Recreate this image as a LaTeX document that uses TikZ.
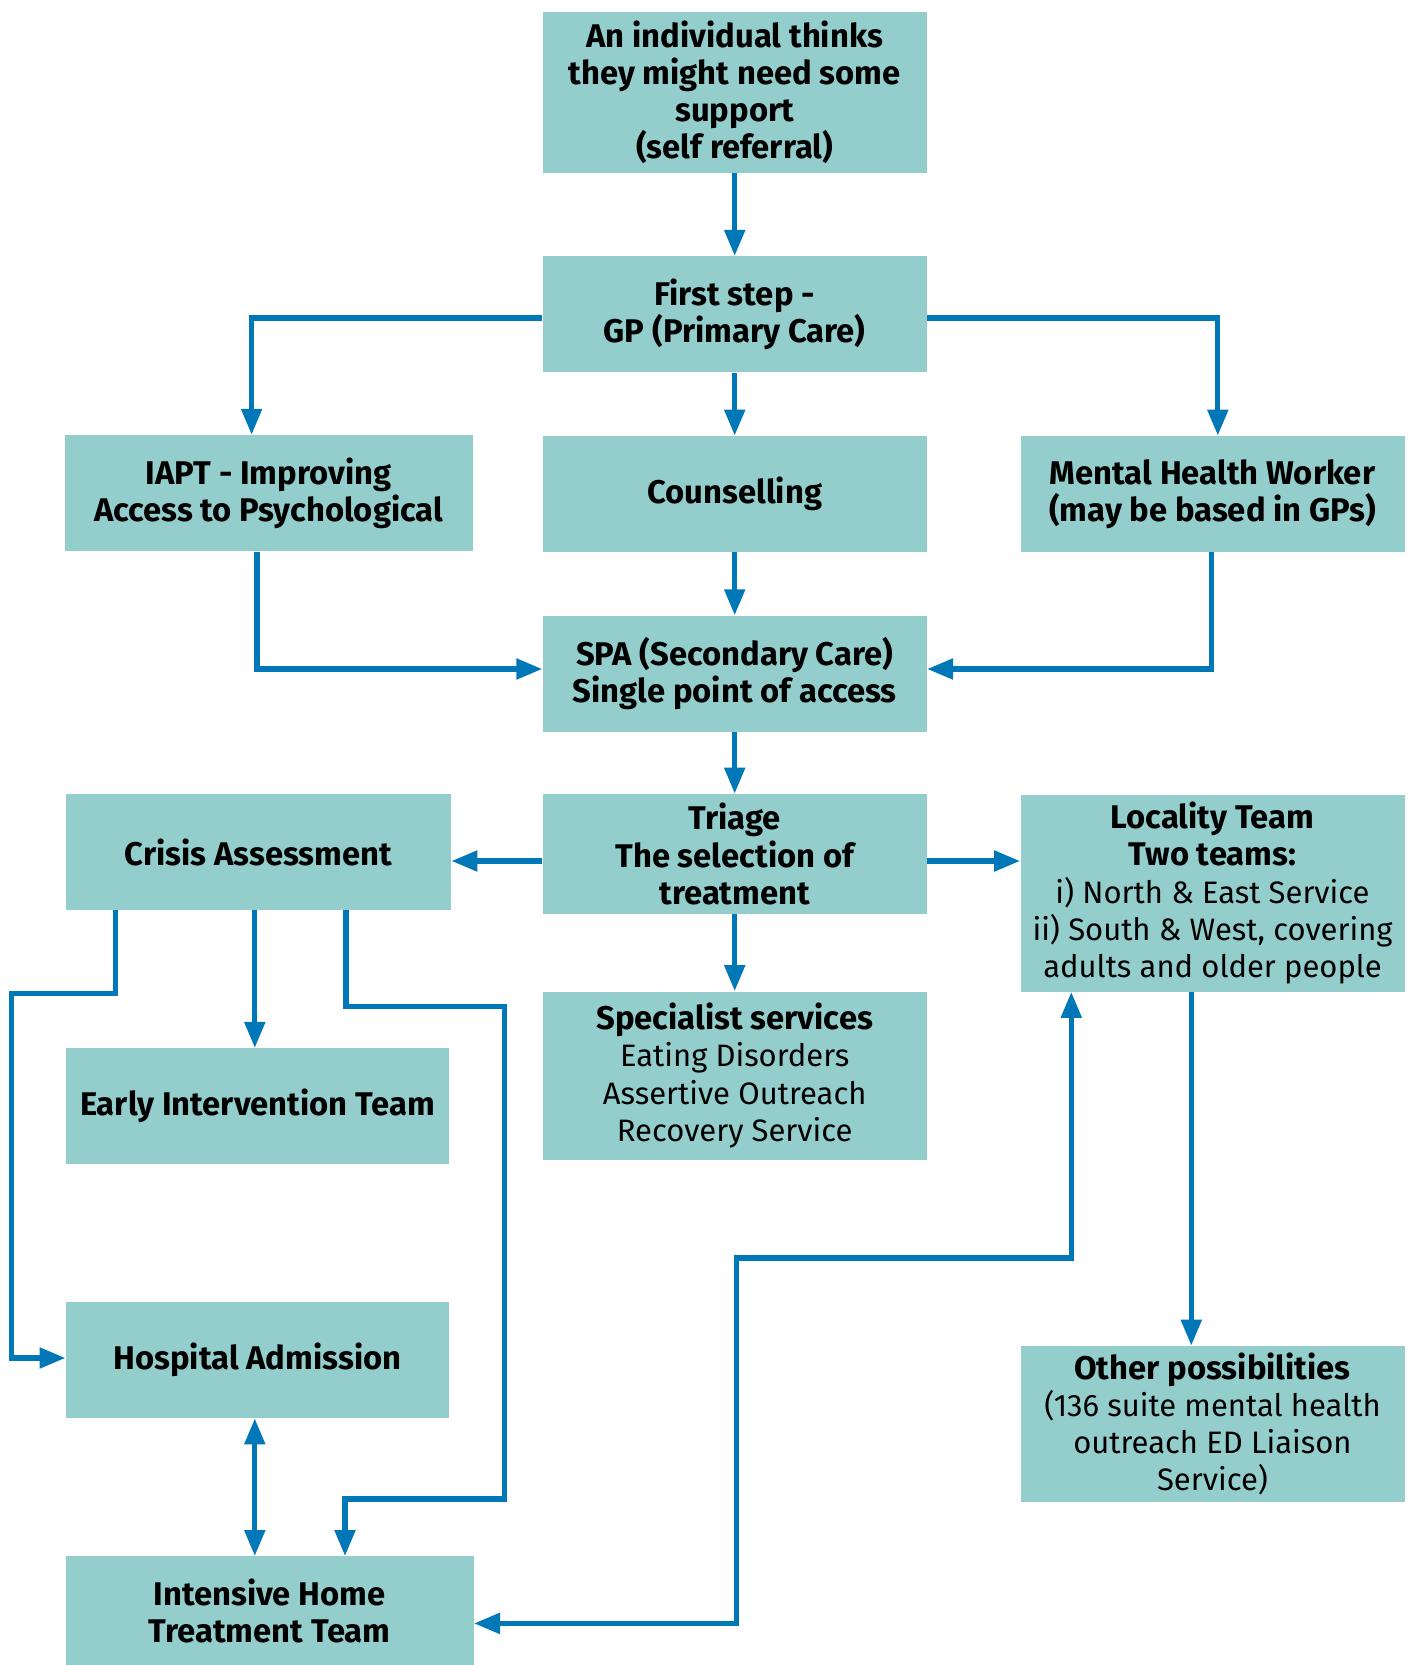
\documentclass[tikz,border=0pt]{standalone}
\usepackage{fontspec}
\setmainfont{Fira Sans}
\usetikzlibrary{arrows.meta}
\definecolor{boxfill}{RGB}{147,206,204}
\definecolor{linkblue}{RGB}{0,119,182}
\newcommand\plainline{\fontsize{15.5}{18.6}\selectfont\mdseries}
\tikzset{>={Triangle[width=10pt,length=13pt]}}
\tikzset{box/.style={fill=boxfill, minimum width=192pt, minimum height=58pt, inner sep=0pt, align=center, font=\fontsize{16.4}{18.6}\selectfont\bfseries}}
\tikzset{link/.style={color=linkblue, line width=2.6pt}}
\begin{document}
\begin{tikzpicture}[x=0.5pt, y=-0.5pt]
    \useasboundingbox (0,0) rectangle (1410,1665);
    \node[box, minimum height=80.5pt] (self) at (734.7,92.4) {An individual thinks\\they might need some\\support\\(self referral)};
    \node[box] (gp) at (734.7,314.3) {First step -\\GP (Primary Care)};
    \node[box, minimum width=204pt] (iapt) at (268.6,493.2) {IAPT - Improving\\Access to Psychological};
    \node[box] (couns) at (734.7,494) {Counselling};
    \node[box] (mhw) at (1212.5,494) {Mental Health Worker\\(may be based in GPs)};
    \node[box] (spa) at (734.7,673.7) {SPA (Secondary Care)\\Single point of access};
    \node[box, minimum height=60pt] (triage) at (734.7,854) {Triage\\The selection of\\treatment};
    \node[box, minimum width=192.5pt] (crisis) at (258.5,852) {Crisis Assessment};
    \node[box, minimum height=98.5pt] (locality) at (1212.5,893) {Locality Team\\Two teams:\\\plainline i) North \& East Service\\\plainline ii) South \& West, covering\\\plainline adults and older people};
    \node[box, minimum height=84pt] (special) at (734.7,1075.5) {Specialist services\\\plainline Eating Disorders\\\plainline Assertive Outreach\\\plainline Recovery Service};
    \node[box, minimum width=191.5pt] (early) at (257.4,1106.3) {Early Intervention Team};
    \node[box, minimum width=191.5pt] (hosp) at (257.4,1360) {Hospital Admission};
    \node[box, minimum width=204pt, minimum height=54.25pt] (ihtt) at (269.6,1610.7) {Intensive Home\\Treatment Team};
    \node[box, minimum height=78pt] (other) at (1212.5,1424) {Other possibilities\\\plainline (136 suite mental health\\\plainline outreach ED Liaison\\\plainline Service)};
    \draw[link,->] (self) -- (gp);
    \draw[link,->] (gp.west |- 0,318) -| (iapt.north -| 251.6,0);
    \draw[link,->] (gp.east |- 0,318) -| (mhw.north -| 1217.8,0);
    \draw[link,->] (gp) -- (couns);
    \draw[link,->] (couns) -- (spa);
    \draw[link,->] (iapt.south -| 257,0) |- (spa.west |- 0,669);
    \draw[link,->] (mhw.south -| 1211.4,0) |- (spa.east |- 0,669);
    \draw[link,->] (spa) -- (triage);
    \draw[link,->] (triage.west |- 0,861) -- (crisis.east |- 0,861);
    \draw[link,->] (triage.east |- 0,861) -- (locality.west |- 0,861);
    \draw[link,->] (triage) -- (special);
    \draw[link,->] (crisis.south -| 254.8,0) -- (early.north -| 254.8,0);
    \draw[link,->] (crisis.south -| 115.7,0) -- (115.7,993.8) -- (11.7,993.8) |- (hosp.west |- 0,1358);
    \draw[link,->] (crisis.south -| 346,0) -- (346,1006.5) -- (504.3,1006.5) -- (504.3,1499) -| (ihtt.north -| 345,0);
    \draw[link,<->] (hosp.south -| 254.8,0) -- (ihtt.north -| 254.8,0);
    \draw[link,<->] (ihtt.east |- 0,1623.4) -| (736.8,1258) -| (locality.south -| 1071.3,0);
    \draw[link,->] (locality.south -| 1191.3,0) -- (other.north -| 1191.3,0);
\end{tikzpicture}
\end{document}
